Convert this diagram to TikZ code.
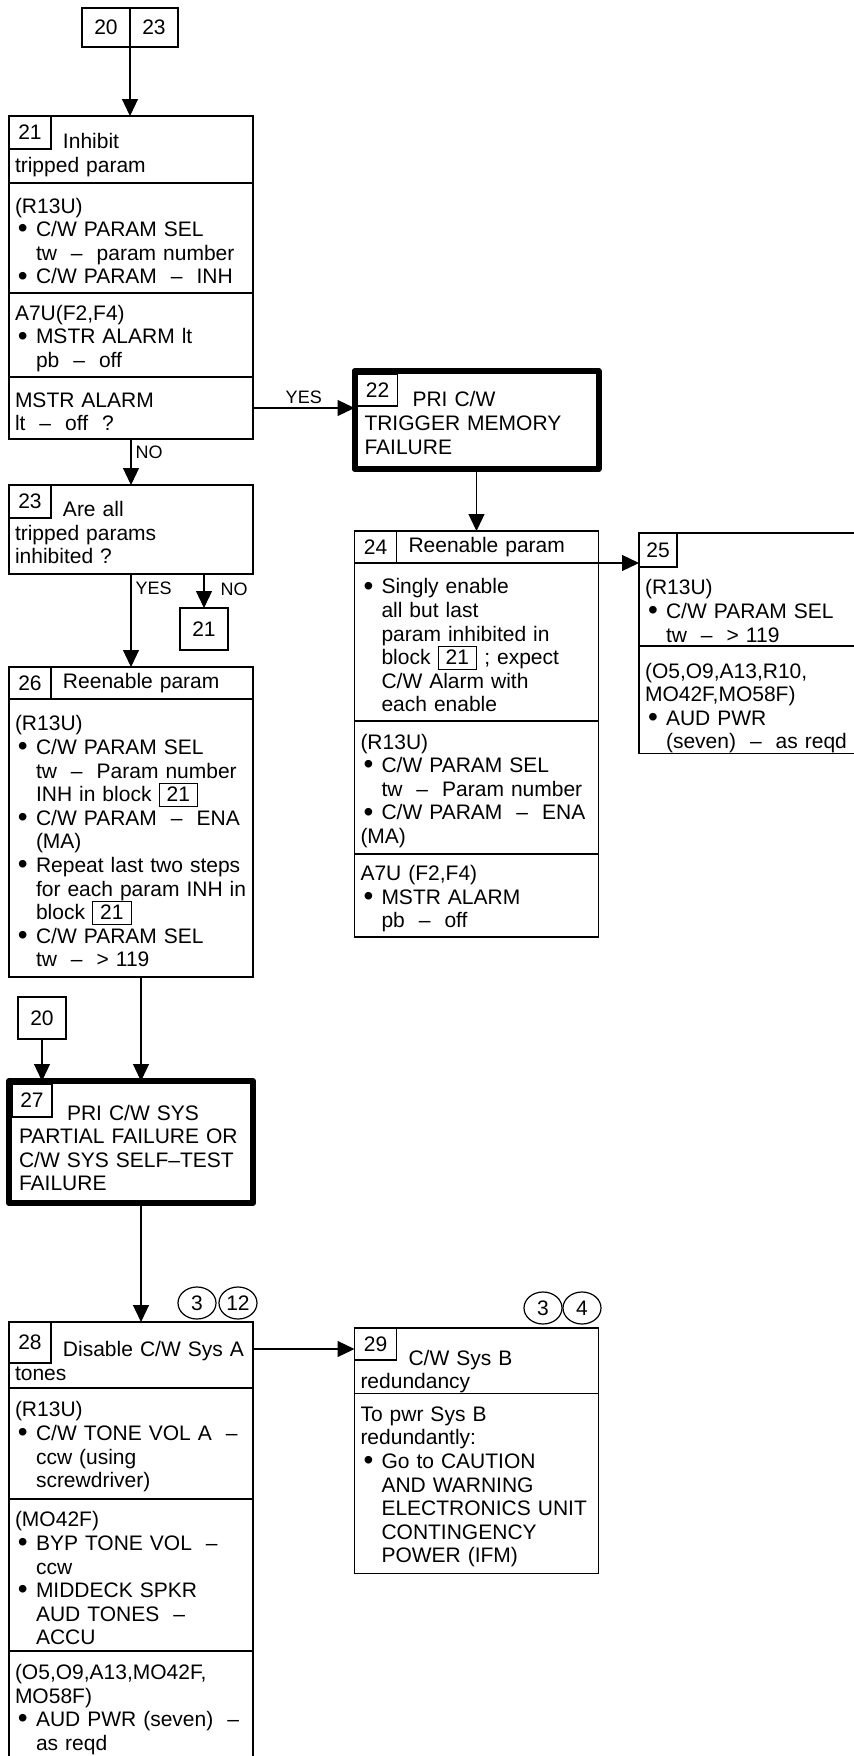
\documentclass[tikz,border=0pt]{standalone}
\usepackage{fontspec}
\setmainfont{Liberation Sans}
\usepackage{tikz}
\usetikzlibrary{shapes.geometric, arrows.meta, positioning}

\newcommand{\cwfont}{\fontsize{10.5pt}{11.8pt}\selectfont}
\newcommand{\lblfont}{\fontsize{9pt}{10pt}\selectfont}
\newcommand{\cwbul}{\makebox[10.5pt][l]{\hspace{1.5pt}%
  \raisebox{-0.6pt}{\fontsize{14pt}{14pt}\selectfont\textbullet}}}
\newcommand{\cwind}{\hspace*{10.5pt}}
\newcommand{\cwblk}[1]{{\setlength{\fboxsep}{0pt}\setlength{\fboxrule}{0.6pt}%
  \fbox{\rule[-2pt]{0pt}{11pt}\hspace{3.5pt}#1\hspace{3.5pt}}}}

\begin{document}
\begin{tikzpicture}[
  x=0.5pt, y=-0.5pt,
  % --- Box styles ---
  secbox/.style={draw, rectangle, line width=0.6pt, outer sep=0pt,
    text width=116pt, inner xsep=3pt, inner ysep=0pt,
    align=left, font=\cwfont},
  thickbox/.style={secbox, line width=3pt, text width=112pt,
    inner xsep=5pt, line join=round},
  textdrop/.style={execute at begin node={\rule{0pt}{#1}}},
  tabbox/.style={draw, line width=0.6pt, anchor=north west,
    outer sep=0pt, inner sep=0pt, minimum width=21pt,
    minimum height=16.5pt, font=\cwfont},
  refbox/.style={draw, line width=0.6pt, outer sep=0pt, inner sep=0pt,
    minimum width=24pt, minimum height=21pt, font=\cwfont},
  notebox/.style={draw, ellipse, line width=0.6pt, inner sep=0pt,
    minimum width=19pt, minimum height=16pt, font=\cwfont},
  % --- Arrows ---
  flow/.style={-{Triangle[width=8pt,length=8.5pt]}, line width=0.6pt},
  % --- Labels ---
  dlbl/.style={font=\lblfont, inner sep=2pt},
]
\useasboundingbox (0,0) rectangle (853,1756);

% ===================== ENTRY =====================
\node[refbox, minimum height=19.5pt] (r20a) at (106,27.5) {20};
\node[refbox, minimum height=19.5pt, right=0pt of r20a] (r23a) {23};

% ===================== BLOCK 21 =====================
\node[secbox, textdrop=13.1pt, anchor=north, minimum height=33.5pt] (b21t) at (131,116)
  {\hspace*{24pt}Inhibit\\tripped param};
\node[secbox, textdrop=11pt, below=0pt of b21t, minimum height=55pt] (b21p)
  {(R13U)\\\cwbul C/W PARAM SEL\\\cwind tw~~–~~param number\\
   \cwbul C/W PARAM~~–~~INH};
\node[secbox, textdrop=11pt, below=0pt of b21p, minimum height=42pt] (b21a)
  {A7U(F2,F4)\\\cwbul MSTR ALARM lt\\\cwind pb~~–~~off};
\node[secbox, textdrop=11pt, below=0pt of b21a, minimum height=31pt] (b21q)
  {MSTR ALARM\\lt~~–~~off~~?};
\node[tabbox] (n21) at (b21t.north west) {21};

% ===================== BLOCK 22 =====================
\node[thickbox, textdrop=10.6pt, anchor=north, minimum height=49pt] (b22) at (476.5,371)
  {\hspace*{24pt}PRI C/W\\TRIGGER MEMORY\\FAILURE};
\node[tabbox, xshift=1.5pt, yshift=-1.5pt, minimum width=20pt,
  minimum height=16pt] (n22) at (b22.north west) {22};

% ===================== BLOCK 23 =====================
\node[secbox, textdrop=10.6pt, anchor=north, minimum height=44.5pt] (b23) at (131,485)
  {\hspace*{24pt}Are all\\tripped params\\inhibited ?};
\node[tabbox] (n23) at (b23.north west) {23};
\node[refbox] (ref21) at (204,629) {21};

% ===================== BLOCK 24 =====================
\node[secbox, anchor=north, minimum height=16pt] (b24t) at (476.5,531)
  {\hspace*{24pt}Reenable param};
\node[secbox, textdrop=11pt, below=0pt of b24t, minimum height=79pt] (b24s)
  {\cwbul Singly enable\\\cwind all but last\\\cwind param inhibited in\\
   \cwind block \cwblk{21} ; expect\\\cwind C/W Alarm with\\\cwind each enable};
\node[secbox, textdrop=11pt, below=0pt of b24s, minimum height=66.5pt] (b24p)
  {(R13U)\\\cwbul C/W PARAM SEL\\\cwind tw~~–~~Param number\\
   \cwbul C/W PARAM~~–~~ENA\\(MA)};
\node[secbox, textdrop=11pt, below=0pt of b24p, minimum height=41.5pt] (b24a)
  {A7U (F2,F4)\\\cwbul MSTR ALARM\\\cwind pb~~–~~off};
\node[tabbox, minimum height=16pt] (n24) at (b24t.north west) {24};

% ===================== BLOCK 25 =====================
\node[secbox, textdrop=29pt, anchor=north, minimum height=56.5pt] (b25p) at (761,533)
  {(R13U)\\\cwbul C/W PARAM SEL\\\cwind tw~~–~~> 119};
\node[secbox, textdrop=16pt, below=0pt of b25p, minimum height=53.5pt] (b25s)
  {(O5,O9,A13,R10,\\MO42F,MO58F)\\\cwbul AUD PWR\\\cwind (seven)~~–~~as reqd};
\node[tabbox, minimum width=19pt, minimum height=17pt] (n25) at (b25p.north west) {25};

% ===================== BLOCK 26 =====================
\node[secbox, anchor=north, minimum height=16pt] (b26t) at (131,667)
  {\hspace*{24pt}Reenable param};
\node[secbox, textdrop=11pt, below=0pt of b26t, minimum height=139pt] (b26b)
  {(R13U)\\\cwbul C/W PARAM SEL\\\cwind tw~~–~~Param number\\
   \cwind INH in block~\cwblk{21}\\\cwbul C/W PARAM~~–~~ENA\\\cwind (MA)\\
   \cwbul Repeat last two steps\\\cwind for each param INH in\\
   \cwind block~\cwblk{21}\\\cwbul C/W PARAM SEL\\\cwind tw~~–~~> 119};
\node[tabbox, minimum height=16pt] (n26) at (b26t.north west) {26};

% ===================== BLOCK 27 =====================
\node[refbox] (r20b) at (42,1018) {20};
\node[thickbox, textdrop=13.6pt, anchor=north, minimum height=61pt] (b27) at (131,1081)
  {\hspace*{24pt}PRI C/W SYS\\PARTIAL FAILURE OR\\C/W SYS SELF–TEST\\FAILURE};
\node[tabbox, xshift=1.5pt, yshift=-1.5pt, minimum width=20pt] (n27) at (b27.north west) {27};

% ===================== BLOCK 28 =====================
\node[secbox, textdrop=13.6pt, anchor=north, minimum height=33pt] (b28t) at (131,1322)
  {\hspace*{24pt}Disable C/W Sys A\\tones};
\node[secbox, textdrop=11pt, below=0pt of b28t, minimum height=55.5pt] (b28p)
  {(R13U)\\\cwbul C/W TONE VOL A~~–\\\cwind ccw (using\\\cwind screwdriver)};
\node[secbox, textdrop=11pt, below=0pt of b28p, minimum height=76pt] (b28m)
  {(MO42F)\\\cwbul BYP TONE VOL~~–\\\cwind ccw\\\cwbul MIDDECK SPKR\\
   \cwind AUD TONES~~–\\\cwind ACCU};
\node[secbox, textdrop=11pt, below=0pt of b28m, minimum height=55pt] (b28a)
  {(O5,O9,A13,MO42F,\\MO58F)\\\cwbul AUD PWR (seven)~~–\\\cwind as reqd};
\node[tabbox, minimum height=20.5pt] (n28) at (b28t.north west) {28};
\node[notebox] (k3a) at (197,1303) {3};
\node[notebox] (k12) at (238,1303) {12};

% ===================== BLOCK 29 =====================
\node[secbox, textdrop=18.6pt, anchor=north, minimum height=32.5pt] (b29t) at (476.5,1328)
  {\hspace*{24pt}C/W Sys B\\redundancy};
\node[secbox, textdrop=11pt, below=0pt of b29t, minimum height=90pt] (b29b)
  {To pwr Sys B\\redundantly:\\\cwbul Go to CAUTION\\\cwind AND WARNING\\
   \cwind ELECTRONICS UNIT\\\cwind CONTINGENCY\\\cwind POWER (IFM)};
\node[tabbox, minimum height=16pt] (n29) at (b29t.north west) {29};
\node[notebox] (k3b) at (543,1308) {3};
\node[notebox] (k4) at (582,1308) {4};

% ================ FLOW ARROWS ================
\draw[flow] (r20a.south east) -- (r20a.south east |- b21t.north);
\draw[flow] (b21q.south) -- node[dlbl, right, pos=0.28] {NO} (b23.north);
\draw[flow] (b21q.east) -- node[dlbl, above] {YES} (b21q.east -| b22.west);
\draw[flow] (b23.south) -- node[dlbl, right, pos=0.15] {YES} (b26t.north);
\draw[flow] (ref21.north |- b23.south) -- node[dlbl, right=6pt, pos=0.45] {NO} (ref21.north);
\draw[flow] (b22.south) -- (b24t.north);
\draw[flow] (b24t.south east) -- (b24t.south east -| b25p.west);
\draw[flow] ([xshift=5pt]b26b.south) -- ([xshift=5pt]b27.north);
\draw[flow] (r20b.south) -- (r20b.south |- b27.north);
\draw[flow] ([xshift=5pt]b27.south) -- ([xshift=5pt]b28t.north);
\draw[flow] ([yshift=3pt]b28t.east) -- ([yshift=3pt]b28t.east -| b29t.west);

\end{tikzpicture}
\end{document}
